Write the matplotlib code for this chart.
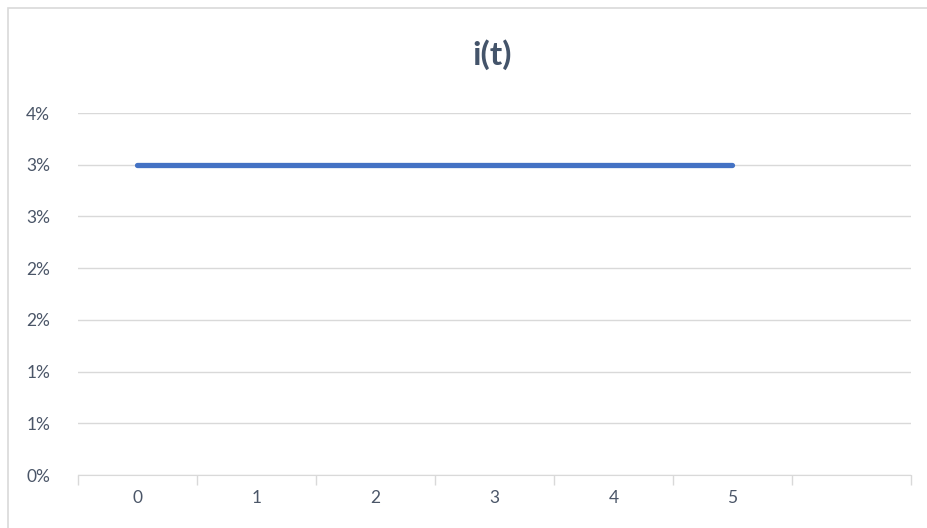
import numpy as np
from matplotlib import pyplot as plt
from matplotlib.ticker import FuncFormatter, FixedLocator
from matplotlib.patches import Rectangle

categories = ['0', '1', '2', '3', '4', '5', '']
t_values = [0, 1, 2, 3, 4, 5]
i_values = [0.03, 0.03, 0.03, 0.03, 0.03, 0.03]
y_ticks = [0.0, 0.005, 0.01, 0.015, 0.02, 0.025, 0.03, 0.035]

plt.rcParams['font.family'] = ['Lato', 'DejaVu Sans']

text_color = '#4b5668'

fig = plt.figure(figsize=(9.28, 5.28), dpi=100)
ax = fig.add_axes([78 / 928, 53 / 528, 833 / 928, 362 / 528])

# chart area border
fig.patches.append(Rectangle((8 / 928, -0.01), 1.0, 1.0 - 8 / 528 + 0.01,
                             transform=fig.transFigure, fill=False,
                             edgecolor='#d9d9d9', linewidth=1.2))

ax.plot(t_values, i_values, color='#4472C4', linewidth=3.8,
        solid_capstyle='round')


def pct(v, pos):
    # excel style: halves round up
    return f'{int(np.floor(v * 100 + 0.5 + 1e-9))}%'


ax.set_xlim(-0.5, len(categories) - 0.5)
ax.set_ylim(0, 0.035)
ax.set_yticks(y_ticks)
ax.yaxis.set_major_formatter(FuncFormatter(pct))
ax.grid(axis='y', color='#d9d9d9', linewidth=1.0)
ax.set_axisbelow(True)

ax.set_xticks(range(len(categories)))
ax.set_xticklabels(categories)
ax.xaxis.set_minor_locator(FixedLocator(np.arange(-0.5, len(categories), 1.0)))
ax.tick_params(axis='x', which='major', length=0, pad=11,
               labelsize=12.5, labelcolor=text_color)
ax.tick_params(axis='x', which='minor', length=7, color='#d9d9d9', width=1.0)
ax.tick_params(axis='y', length=0, pad=20, labelsize=12.5, labelcolor=text_color)

for s in ['top', 'right', 'left']:
    ax.spines[s].set_visible(False)
ax.spines['bottom'].set_color('#d9d9d9')

fig.text(492 / 928, 1 - 55 / 528, 'i(t)', ha='center', va='center',
         fontsize=24, fontweight='bold', color='#44546A')

fig.savefig('out.png', dpi=100)
